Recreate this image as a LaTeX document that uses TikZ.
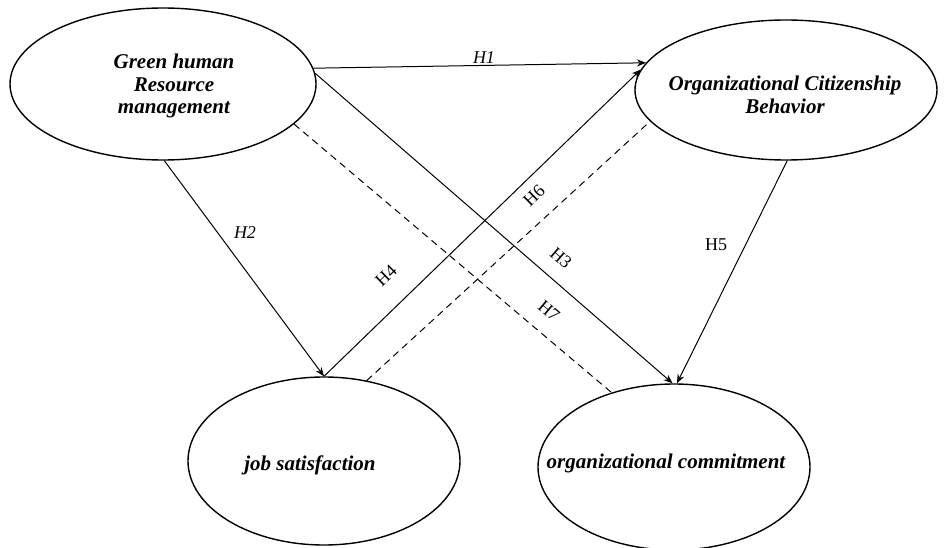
\documentclass[tikz,border=0pt]{standalone}
\usepackage{fontspec}
\setmainfont{Liberation Serif}
\usetikzlibrary{shapes.geometric,arrows.meta}
\tikzset{
  oval/.style={draw=black, line width=1.4pt, ellipse, inner sep=0pt},
  ovaltext/.style={font=\fontsize{21}{22.5}\selectfont\bfseries\itshape, align=center, inner sep=0pt},
  hlab/.style={font=\fontsize{18}{18}\selectfont, inner sep=0pt},
  hilab/.style={font=\fontsize{18}{18}\selectfont\itshape, inner sep=0pt},
  link/.style={draw=black, line width=1pt, -{Stealth[length=9pt,width=7pt]}},
  dlink/.style={draw=black, line width=1pt, dash pattern=on 7pt off 5pt},
}
\begin{document}
\begin{tikzpicture}[x=1pt,y=-1pt]
\useasboundingbox (0,0) rectangle (946,548);
\fill[white] (0,0) rectangle (946,548);
% ellipses
\node[oval, minimum width=306pt, minimum height=152pt] (ghrm) at (163,84) {};
\node[oval, minimum width=302pt, minimum height=140pt] (ocb) at (786,90) {};
\node[oval, minimum width=272pt, minimum height=168pt] (js) at (324,461) {};
\node[oval, minimum width=272pt, minimum height=166pt] (oc) at (674,467) {};
% texts
\node[ovaltext] (tghrm) at (174,86) {Green human\\Resource\\management};
\node[ovaltext] (tocb) at (785,95) {Organizational Citizenship\\Behavior};
\node[ovaltext] (tjs) at (310,465) {job satisfaction};
\node[ovaltext] (toc) at (666,463) {organizational commitment};
% connectors
\draw[link] (ghrm.6) -- (ocb.169);
\draw[link] (ghrm.4) -- (oc.91);
\draw[link] (ghrm.-89) -- (js.north);
\draw[link] (js.north) -- (ocb.172);
\draw[link] (ocb.-89) -- (oc.88);
\draw[dlink] (js.62) -- (ocb.-167);
\draw[dlink] (ghrm.-17) -- (oc.130);
% labels
\node[hilab] (h1) at (484,58) {H1};
\node[hilab] (h2) at (245,233) {H2};
\node[hlab, rotate=-41] (h3) at (561,258) {H3};
\node[hlab, rotate=44] (h4) at (386,276) {H4};
\node[hlab] (h5) at (716,245) {H5};
\node[hlab, rotate=44] (h6) at (534,196) {H6};
\node[hlab, rotate=-40] (h7) at (549,311) {H7};
\end{tikzpicture}
\end{document}
